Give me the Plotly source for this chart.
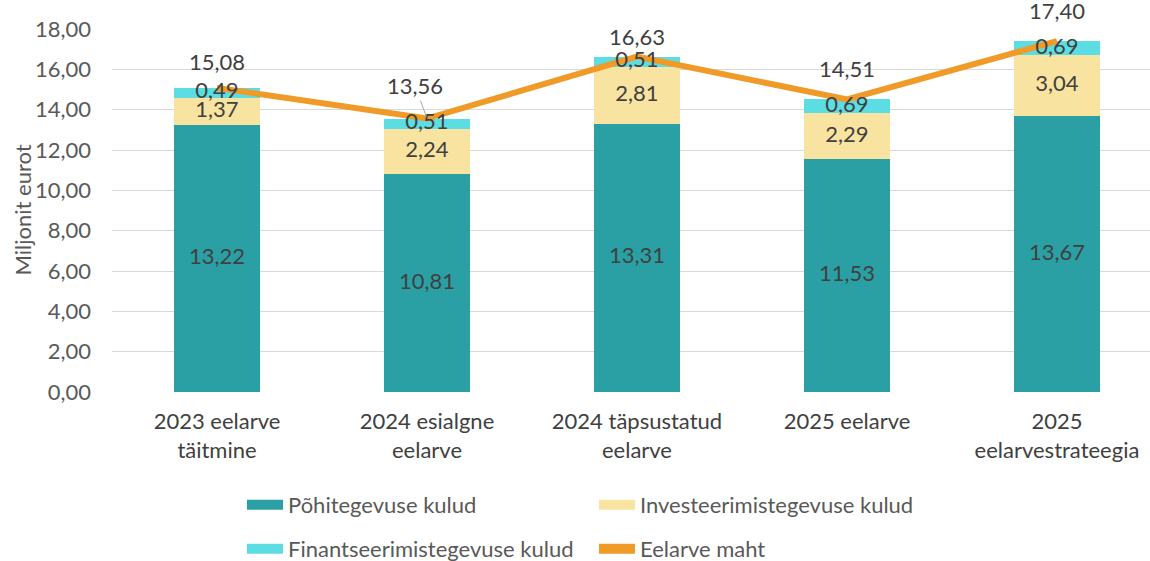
import plotly.graph_objects as go

categories = ["2023 eelarve<br>täitmine", "2024 esialgne<br>eelarve", "2024 täpsustatud<br>eelarve",
              "2025 eelarve", "2025<br>eelarvestrateegia"]
pohi = [13.22, 10.81, 13.31, 11.53, 13.67]
invest = [1.37, 2.24, 2.81, 2.29, 3.04]
finants = [0.49, 0.51, 0.51, 0.69, 0.69]
maht = [15.08, 13.56, 16.63, 14.51, 17.40]

# label offsets (style only, pixels) for the line value labels
maht_label_dx = [0, -12, 0, 0, 0]
maht_label_dy = [26, 33, 20, 31, 31]

FONT = "Lato"
TXT = "#404040"
C_POHI = "#2aa0a5"
C_INV = "#f8e3a1"
C_FIN = "#5cdde3"
C_LINE = "#f09a28"
x = list(range(len(categories)))

fig = go.Figure()
fig.add_bar(x=x, y=pohi, name="Põhitegevuse kulud", marker=dict(color=C_POHI, line=dict(width=0)),
            width=0.41, hoverinfo="skip", showlegend=False)
fig.add_bar(x=x, y=invest, name="Investeerimistegevuse kulud", marker=dict(color=C_INV, line=dict(width=0)),
            width=0.41, hoverinfo="skip", showlegend=False)
fig.add_bar(x=x, y=finants, name="Finantseerimistegevuse kulud", marker=dict(color=C_FIN, line=dict(width=0)),
            width=0.41, hoverinfo="skip", showlegend=False)
fig.add_scatter(x=x, y=maht, name="Eelarve maht", mode="lines",
                line=dict(color=C_LINE, width=6), hoverinfo="skip", showlegend=False)

# legend entries (swatches)
for name, col, lg in [("Põhitegevuse kulud", C_POHI, "legend"),
                      ("Investeerimistegevuse kulud", C_INV, "legend"),
                      ("Finantseerimistegevuse kulud", C_FIN, "legend2"),
                      ("Eelarve maht", C_LINE, "legend2")]:
    fig.add_scatter(x=[None], y=[None], mode="lines", name=name,
                    line=dict(color=col, width=12), legend=lg, hoverinfo="skip")


def fmt(v):
    return f"{v:.2f}".replace(".", ",")


mid1 = [p / 2 for p in pohi]
mid2 = [p + i / 2 for p, i in zip(pohi, invest)]
mid3 = [p + i + f / 2 for p, i, f in zip(pohi, invest, finants)]
for mids, vals in [(mid1, pohi), (mid2, invest), (mid3, finants)]:
    fig.add_scatter(x=x, y=mids, mode="text", text=[fmt(v) for v in vals],
                    textfont=dict(family=FONT, size=22, color=TXT), showlegend=False,
                    hoverinfo="skip", cliponaxis=False)

for xi, v, dx, dy in zip(x, maht, maht_label_dx, maht_label_dy):
    if dx != 0:
        fig.add_annotation(x=xi, y=v, text=fmt(v), showarrow=True, arrowhead=0, arrowwidth=1,
                           arrowcolor="#a6a6a6", ax=dx, ay=-dy, standoff=2,
                           font=dict(family=FONT, size=22, color=TXT))
    else:
        fig.add_annotation(x=xi, y=v, text=fmt(v), showarrow=False, xshift=dx, yshift=dy,
                           font=dict(family=FONT, size=22, color=TXT))

fig.add_annotation(xref="paper", yref="paper", x=(22 - 112) / 1038, y=0.5, text="Miljonit eurot",
                   textangle=-90, showarrow=False, xanchor="center", yanchor="middle",
                   font=dict(family=FONT, size=22, color="#595959"))

legend_common = dict(orientation="h", xref="container", yref="container", xanchor="left",
                     yanchor="middle", font=dict(family=FONT, size=22, color="#595959"),
                     entrywidth=301, entrywidthmode="pixels", bgcolor="rgba(0,0,0,0)",
                     itemwidth=36, traceorder="normal")

fig.update_layout(
    width=1150, height=561,
    barmode="stack",
    plot_bgcolor="white", paper_bgcolor="white",
    margin=dict(l=112, r=0, t=29, b=169, autoexpand=False),
    separators=", ",
    font=dict(family=FONT, color="#595959", size=22),
    xaxis=dict(tickmode="array", tickvals=x, ticktext=categories, range=[-0.5, 4.443],
               showgrid=False, zeroline=False, showline=False, ticks="", automargin=False,
               tickfont=dict(size=22, color="#404040"), ticklabelstandoff=14),
    yaxis=dict(range=[0, 18], dtick=2, tickformat=".2f", showgrid=True, gridcolor="#d9d9d9",
               gridwidth=1, zeroline=False, showline=False, ticks="", automargin=False,
               tickfont=dict(size=22, color="#595959"), ticklabelstandoff=20),
    legend=dict(x=242 / 1150, y=1 - 505 / 561, **legend_common),
    legend2=dict(x=242 / 1150, y=1 - 549 / 561, **legend_common),
    showlegend=True,
)
fig.write_html("out.html", config={"displayModeBar": False},
               post_script="document.body.style.margin='0';document.body.style.overflow='hidden';")
